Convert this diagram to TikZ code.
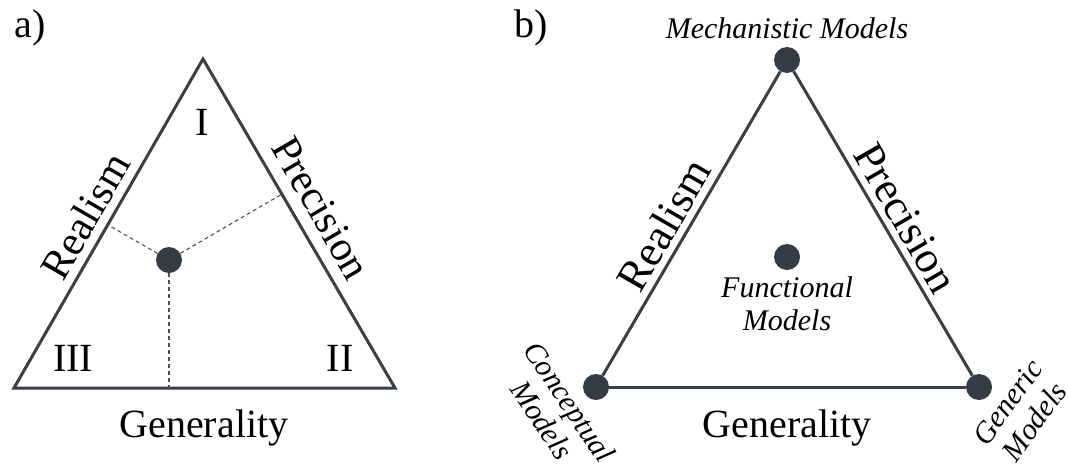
\documentclass[tikz,border=0pt]{standalone}
\usepackage{fontspec}
\setmainfont{Liberation Serif}
\usetikzlibrary{calc}
\definecolor{edgecol}{HTML}{393F47}
\definecolor{dotcol}{HTML}{363C44}
\tikzset{
  side/.style={draw=edgecol, line width=3pt, line join=miter},
  dotnode/.style={circle, fill=dotcol, minimum size=26pt, inner sep=0pt},
  guide/.style={draw=edgecol!90, line width=1.1pt, dash pattern=on 4pt off 3pt},
  biglab/.style={font=\fontsize{40}{48}\selectfont, inner sep=0pt},
  axislab/.style={font=\fontsize{42}{48}\selectfont, inner sep=0pt},
  itlab/.style={font=\fontsize{30}{33}\selectfont\itshape, inner sep=0pt, align=center},
}
\begin{document}
\begin{tikzpicture}[x=1pt, y=-1pt]
\useasboundingbox (0,0) rectangle (1068,466);
% ---------- panel a ----------
\coordinate (A1) at (203,59);
\coordinate (B1) at (14,388);
\coordinate (C1) at (395,388);
\draw[side] (A1) -- (B1) -- (C1) -- cycle;
\node[dotnode] (d1) at (169,260) {};
\coordinate (fL) at ($(A1)!(d1)!(B1)$);
\coordinate (fR) at ($(A1)!(d1)!(C1)$);
\coordinate (fB) at ($(B1)!(d1)!(C1)$);
\draw[guide] (d1) -- (fL);
\draw[guide] (d1) -- (fR);
\draw[guide] (d1) -- (fB);
\node[biglab] (pa) at (30,28) {a)};
\node[biglab] (r1) at (202,122) {I};
\node[biglab] (r3) at (73,358) {III};
\node[biglab] (r2) at (340,358) {II};
\node[axislab, rotate=60] (real1) at (85,216) {Realism};
\node[axislab, rotate=-60] (prec1) at (321,208) {Precision};
\node[biglab, anchor=base] (gen1) at (204,437) {Generality};
% ---------- panel b ----------
\node[dotnode] (mech) at (787,60) {};
\node[dotnode] (conc) at (596,387) {};
\node[dotnode] (gene) at (979,387) {};
\node[dotnode] (func) at (787,257) {};
\draw[side] (mech) -- (conc);
\draw[side] (conc) -- (gene);
\draw[side] (gene) -- (mech);
\node[biglab] (pb) at (531,28) {b)};
\node[itlab, anchor=base] (mechl) at (787,38) {Mechanistic Models};
\node[itlab] (funcl) at (787,304) {Functional\\Models};
\node[itlab, rotate=-56] (concl) at (556,411) {Conceptual\\Models};
\node[itlab, rotate=54] (genel) at (1021,412) {Generic\\Models};
\node[axislab, font=\fontsize{44}{48}\selectfont, rotate=60] (real2) at (664,225) {Realism};
\node[axislab, font=\fontsize{44}{48}\selectfont, rotate=-60] (prec2) at (906,218) {Precision};
\node[biglab, anchor=base] (gen2) at (787,437) {Generality};
\end{tikzpicture}
\end{document}
